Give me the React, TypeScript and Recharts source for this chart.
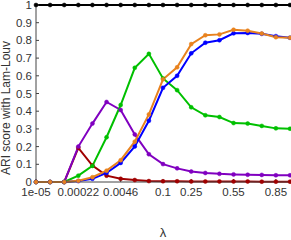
import React from 'react'
import { LineChart, Line, XAxis, YAxis } from 'recharts'

// lambda grid (log-spaced up to 0.1, then linear)
const lambdas = [
  '1e-05', '2.8e-05', '7.7e-05', '0.00022', '0.0006', '0.0017', '0.0046', '0.013', '0.036',
  '0.1', '0.15', '0.25', '0.35', '0.45', '0.55', '0.65', '0.75', '0.85', '0.95',
]
const tickIdx = [0, 3, 6, 9, 11, 14, 17]
const yTicks = [0, 0.1, 0.2, 0.3, 0.4, 0.5, 0.6, 0.7, 0.8, 0.9, 1]

const black = [1, 1, 1, 1, 1, 1, 1, 1, 1, 1, 1, 1, 1, 1, 1, 1, 1, 1, 1]
const darkRed = [0, 0, 0, 0.193, 0.093, 0.036, 0.018, 0.011, 0.005, 0.004, 0.004, 0.003, 0.003, 0.003, 0.003, 0.003, 0.002, 0.002, 0.002]
const purple = [0, 0, 0, 0.2, 0.33, 0.452, 0.407, 0.269, 0.157, 0.101, 0.077, 0.059, 0.051, 0.046, 0.043, 0.041, 0.04, 0.038, 0.038]
const green = [0, 0, 0, 0.036, 0.091, 0.253, 0.435, 0.645, 0.724, 0.585, 0.519, 0.422, 0.377, 0.367, 0.333, 0.33, 0.317, 0.303, 0.301]
const blue = [0, 0, 0, 0.005, 0.018, 0.051, 0.108, 0.201, 0.346, 0.532, 0.6, 0.727, 0.787, 0.801, 0.84, 0.842, 0.837, 0.824, 0.815]
const orange = [0, 0, 0, 0.007, 0.027, 0.064, 0.123, 0.228, 0.382, 0.58, 0.648, 0.779, 0.829, 0.834, 0.86, 0.855, 0.839, 0.818, 0.815]

const data = lambdas.map((l, i) => ({
  i,
  l,
  black: black[i],
  darkRed: darkRed[i],
  purple: purple[i],
  green: green[i],
  blue: blue[i],
  orange: orange[i],
}))

const series = [
  { key: 'black', color: '#000000' },
  { key: 'darkRed', color: '#a00000' },
  { key: 'purple', color: '#8000c0' },
  { key: 'green', color: '#00c000' },
  { key: 'blue', color: '#0000ff' },
  { key: 'orange', color: '#e8821e' },
]

const font = '"Liberation Sans", Arial, sans-serif'

const XTick = (props: any) => {
  const { x, y, payload } = props
  return (
    <text x={x} y={y} dy={9} textAnchor="middle" fill="#333" fontSize={11.5} fontFamily={font}>
      {lambdas[payload.value]}
    </text>
  )
}

export default function App() {
  return (
    <div style={{ position: 'absolute', left: 0, top: 0, background: '#fff' }}>
      <LineChart width={291} height={240} data={data} margin={{ top: 5, right: 1, bottom: 28, left: 0 }}>
        <XAxis
          dataKey="i"
          type="number"
          domain={[0, 18]}
          ticks={tickIdx}
          interval={0}
          stroke="#444"
          tickSize={-3}
          tickMargin={8}
          tick={<XTick />}
          label={{
            content: () => (
              <text x={163} y={237} textAnchor="middle" fill="#333" fontSize={13} fontFamily={font}>
                λ
              </text>
            ),
          }}
        />
        <YAxis
          type="number"
          domain={[0, 1]}
          ticks={yTicks}
          width={36}
          interval={0}
          stroke="#444"
          tickSize={-3}
          tickMargin={7}
          tick={{ fill: '#333', fontSize: 11.5, fontFamily: font }}
          label={{
            content: () => (
              <text
                x={6}
                y={108}
                transform="rotate(-90 6 108)"
                textAnchor="middle"
                dominantBaseline="central"
                fill="#333"
                fontSize={12}
                fontFamily={font}
              >
                ARI score with Lam-Louv
              </text>
            ),
          }}
        />
        {series.map((s) => (
          <Line
            key={s.key}
            dataKey={s.key}
            stroke={s.color}
            strokeWidth={2}
            dot={{ r: 2, fill: s.color, stroke: s.color, strokeWidth: 0.5 }}
            isAnimationActive={false}
          />
        ))}
      </LineChart>
    </div>
  )
}
